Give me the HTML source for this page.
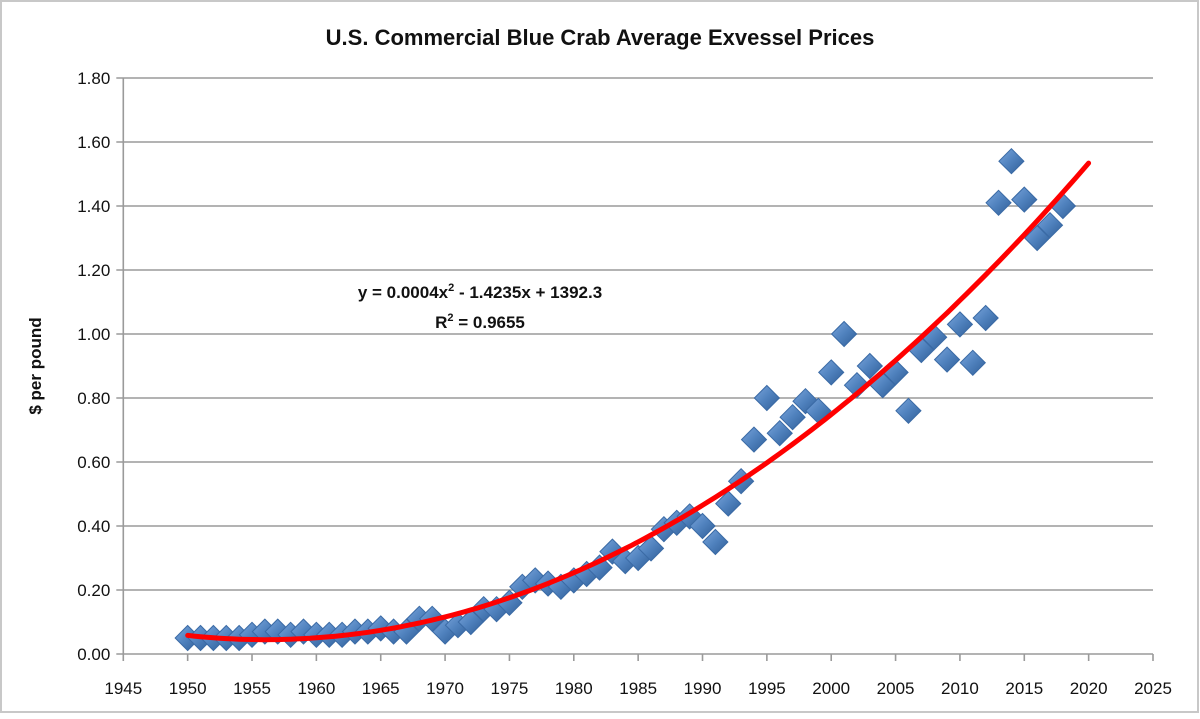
<!DOCTYPE html>
<html><head><meta charset="utf-8"><style>
body{margin:0;background:#fff;}
svg text{font-family:"Liberation Sans",sans-serif;}
</style></head><body>
<svg id="chart" width="1200" height="714" xmlns="http://www.w3.org/2000/svg">
<defs>
<linearGradient id="dg" x1="0" y1="0" x2="1" y2="1">
<stop offset="0" stop-color="#7aa5dc"/><stop offset="0.5" stop-color="#4f81bd"/><stop offset="1" stop-color="#2f5d96"/>
</linearGradient>
</defs>
<rect x="1" y="1" width="1197" height="711" fill="#fff" stroke="#c8c8c8" stroke-width="2"/>
<text x="600" y="45" text-anchor="middle" font-size="22" font-weight="bold" fill="#111">U.S. Commercial Blue Crab Average Exvessel Prices</text>
<text transform="translate(41,366) rotate(-90)" text-anchor="middle" font-size="17" font-weight="bold" fill="#111">$ per pound</text>
<g id="grid"></g>
<g id="axes"></g>
<g id="trend"></g>
<g id="points"></g>
<g font-size="17" font-weight="bold" fill="#111" text-anchor="middle">
<text x="480" y="298">y = 0.0004x<tspan dy="-7" font-size="11">2</tspan><tspan dy="7"> - 1.4235x + 1392.3</tspan></text>
<text x="480" y="328">R<tspan dy="-7" font-size="11">2</tspan><tspan dy="7"> = 0.9655</tspan></text>
</g>
</svg>
<script>
const years=[1950,1951,1952,1953,1954,1955,1956,1957,1958,1959,1960,1961,1962,1963,1964,1965,1966,1967,1968,1969,1970,1971,1972,1973,1974,1975,1976,1977,1978,1979,1980,1981,1982,1983,1984,1985,1986,1987,1988,1989,1990,1991,1992,1993,1994,1995,1996,1997,1998,1999,2000,2001,2002,2003,2004,2005,2006,2007,2008,2009,2010,2011,2012,2013,2014,2015,2016,2017,2018];
const prices=[0.05,0.05,0.05,0.05,0.05,0.06,0.07,0.07,0.06,0.07,0.06,0.06,0.06,0.07,0.07,0.08,0.07,0.07,0.11,0.11,0.07,0.09,0.10,0.14,0.14,0.16,0.21,0.23,0.22,0.21,0.23,0.25,0.27,0.32,0.29,0.30,0.33,0.39,0.41,0.43,0.40,0.35,0.47,0.54,0.67,0.80,0.69,0.74,0.79,0.76,0.88,1.00,0.84,0.90,0.84,0.88,0.76,0.95,0.99,0.92,1.03,0.91,1.05,1.41,1.54,1.42,1.30,1.34,1.40];
const xTicks=[1945,1950,1955,1960,1965,1970,1975,1980,1985,1990,1995,2000,2005,2010,2015,2020,2025];
const yTicks=[0,0.2,0.4,0.6,0.8,1.0,1.2,1.4,1.6,1.8];
const trendRange=[1950,2020];
const NS="http://www.w3.org/2000/svg";
const X0=123.3,X1=1153,Y0=654,Y1=78;
function xs(v){return X0+(v-1945)/(2025-1945)*(X1-X0);}
function ys(v){return Y0-(v/1.8)*(Y0-Y1);}
function mk(tag,attrs,parent){const e=document.createElementNS(NS,tag);for(const k in attrs)e.setAttribute(k,attrs[k]);parent.appendChild(e);return e;}
const grid=document.getElementById('grid'),axes=document.getElementById('axes');
yTicks.forEach(t=>{
  const l=mk('line',{x1:X0-7,x2:X1,y1:ys(t),y2:ys(t),stroke:'#9a9a9a','stroke-width':1.6},grid);
  
  
  const tx=mk('text',{x:X0-13,y:ys(t)+6,'text-anchor':'end','font-size':17,fill:'#111'},axes);
  tx.textContent=t.toFixed(2);
  
  
});
const ya=mk('line',{x1:X0,x2:X0,y1:Y1,y2:Y0,stroke:'#9a9a9a','stroke-width':1.6},axes);


xTicks.forEach(t=>{
  const l=mk('line',{x1:xs(t),x2:xs(t),y1:Y0,y2:Y0+7,stroke:'#9a9a9a','stroke-width':1.6},axes);
  
  
  const tx=mk('text',{x:xs(t),y:Y0+40,'text-anchor':'middle','font-size':17,fill:'#111'},axes);
  tx.textContent=t;
  
  
});
// least-squares quadratic trend
(function(){
  const n=years.length,c=1985;let S=[0,0,0,0,0],T=[0,0,0];
  years.forEach((yr,i)=>{const u=yr-c;let p=1;for(let k=0;k<5;k++){S[k]+=p;if(k<3)T[k]+=p*prices[i];p*=u;}});
  const A=[[S[0],S[1],S[2]],[S[1],S[2],S[3]],[S[2],S[3],S[4]]],b=T.slice();
  for(let i=0;i<3;i++){for(let j=i+1;j<3;j++){const f=A[j][i]/A[i][i];for(let k=i;k<3;k++)A[j][k]-=f*A[i][k];b[j]-=f*b[i];}}
  const co=[0,0,0];for(let i=2;i>=0;i--){let s=b[i];for(let k=i+1;k<3;k++)s-=A[i][k]*co[k];co[i]=s/A[i][i];}
  let d='';for(let yr=trendRange[0];yr<=trendRange[1]+1e-9;yr+=0.5){const u=yr-c;const v=co[0]+co[1]*u+co[2]*u*u;d+=(d?'L':'M')+xs(yr).toFixed(1)+','+ys(v).toFixed(1);}
  const p=mk('path',{d:d,fill:'none',stroke:'#ff0000','stroke-width':5,'stroke-linecap':'round'},document.getElementById('trend'));
  
  
})();
const pts=document.getElementById('points');
years.forEach((yr,i)=>{
  const cx=xs(yr),cy=ys(prices[i]),r=12.5;
  const d=mk('polygon',{points:`${cx},${cy-r} ${cx+r},${cy} ${cx},${cy+r} ${cx-r},${cy}`,fill:'url(#dg)',stroke:'#3a6aa5','stroke-width':1},pts);
  
  
});
// trend drawn under points in reference? keep points below trend like Excel
pts.parentNode.insertBefore(pts,document.getElementById('trend'));
</script>
</body></html>
